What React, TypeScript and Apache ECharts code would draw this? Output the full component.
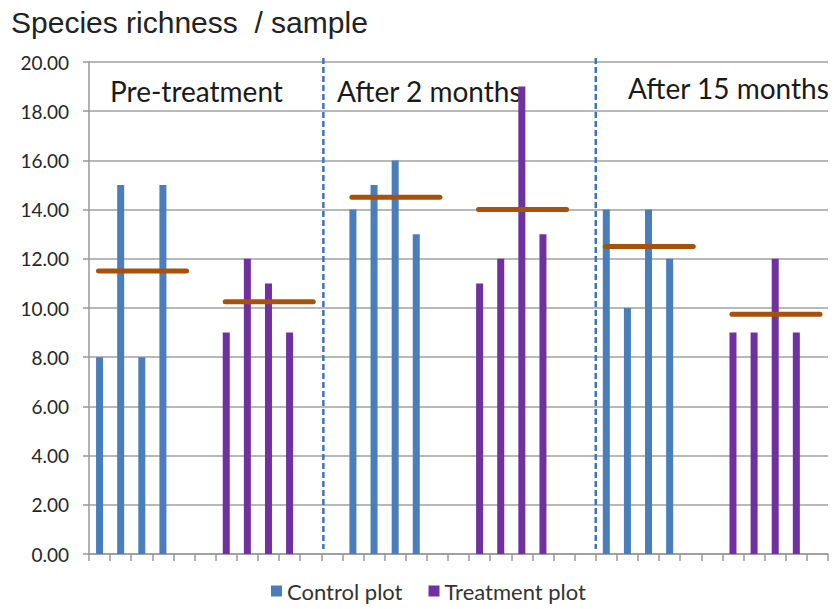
import React, { useEffect, useRef } from "react";
import * as echarts from "echarts";

// ---- data ----
const slotCount = 35;
const categories: string[] = new Array(slotCount).fill("");
const periods = ["Pre-treatment", "After 2 months", "After 15 months"];
const controlPre = [8, 15, 8, 15];
const controlAfter2 = [14, 15, 16, 13];
const controlAfter15 = [14, 10, 14, 12];
const treatmentPre = [9, 12, 11, 9];
const treatmentAfter2 = [11, 12, 19, 13];
const treatmentAfter15 = [9, 9, 12, 9];
const controlMeans = [11.5, 14.5, 12.5];
const treatmentMeans = [10.25, 14.0, 9.75];
const yTicks = [0, 2, 4, 6, 8, 10, 12, 14, 16, 18, 20];

// ---- layout (slot positions of groups) ----
const controlStarts = [0, 12, 24];
const treatmentStarts = [6, 18, 30];
const dividerSlots = [11.1, 24.0];

const BLUE = "#4A7EBB";
const PURPLE = "#7030A0";
const BROWN = "#A4520E";
const FONT = "Lato, 'Noto Sans', sans-serif";

function buildSeriesData(groups: number[][], starts: number[]) {
  const arr: (number | null)[] = new Array(slotCount).fill(null);
  groups.forEach((g, gi) => {
    g.forEach((v, i) => {
      arr[starts[gi] + i] = v;
    });
  });
  return arr;
}

export default function App() {
  const ref = useRef<HTMLDivElement>(null);

  useEffect(() => {
    if (!ref.current) return;
    const chart = echarts.init(ref.current, null, { renderer: "svg" });

    const controlData = buildSeriesData([controlPre, controlAfter2, controlAfter15], controlStarts);
    const treatmentData = buildSeriesData([treatmentPre, treatmentAfter2, treatmentAfter15], treatmentStarts);

    const meanSeries: any[] = [];
    const addMeans = (means: number[], starts: number[]) => {
      means.forEach((m, i) => {
        meanSeries.push({
          type: "line",
          xAxisIndex: 1,
          yAxisIndex: 0,
          data: [
            [starts[i] + 0.45, m],
            [starts[i] + 4.62, m],
          ],
          symbol: "none",
          lineStyle: { color: BROWN, width: 5, cap: "round" },
          z: 5,
          silent: true,
        });
      });
    };
    addMeans(controlMeans, controlStarts);
    addMeans(treatmentMeans, treatmentStarts);

    const dividerSeries = dividerSlots.map((x) => ({
      type: "line",
      xAxisIndex: 1,
      yAxisIndex: 0,
      data: [
        [x, 20.16],
        [x, 0.2],
      ],
      symbol: "none",
      clip: false,
      lineStyle: { color: "#3E75B8", width: 2.5, type: [6, 3] },
      z: 4,
      silent: true,
    }));

    const option: any = {
      animation: false,
      title: {
        text: "Species richness  / sample",
        left: 6,
        top: 2,
        textStyle: {
          fontFamily: "'Liberation Sans', Arial, sans-serif",
          fontSize: 30,
          fontWeight: "normal",
          color: "#222",
        },
      },
      legend: {
        data: ["Control plot", "Treatment plot"],
        bottom: 2,
        left: 266,
        icon: "rect",
        itemWidth: 11,
        itemHeight: 11,
        itemGap: 26,
        textStyle: { fontFamily: FONT, fontSize: 22, color: "#333" },
      },
      grid: { left: 89, right: 7, top: 62, bottom: 55 },
      xAxis: [
        {
          type: "category",
          data: categories,
          boundaryGap: true,
          axisLine: { lineStyle: { color: "#999", width: 1.5 } },
          axisTick: { show: true, interval: 0, length: 7, lineStyle: { color: "#999", width: 1.5 } },
          axisLabel: { show: false },
        },
        {
          type: "value",
          min: 0,
          max: slotCount,
          show: false,
        },
      ],
      yAxis: {
        type: "value",
        min: yTicks[0],
        max: yTicks[yTicks.length - 1],
        interval: 2,
        axisLine: { show: true, lineStyle: { color: "#999", width: 1.5 } },
        axisTick: { show: true, length: 6, lineStyle: { color: "#999", width: 1.5 } },
        splitLine: { lineStyle: { color: "#a0a0a0", width: 1.5 } },
        axisLabel: {
          formatter: (v: number) => v.toFixed(2),
          fontFamily: FONT,
          fontSize: 19,
          color: "#262626",
          margin: 20,
        },
      },
      graphic: [
        { type: "text", left: 110, top: 77, style: { text: periods[0], font: `28px ${FONT}`, fill: "#1a1a1a" } },
        { type: "text", left: 337, top: 77, style: { text: periods[1], font: `28px ${FONT}`, fill: "#1a1a1a" } },
        { type: "text", left: 628, top: 74, style: { text: periods[2], font: `28px ${FONT}`, fill: "#1a1a1a" } },
      ],
      series: [
        {
          name: "Control plot",
          type: "bar",
          data: controlData,
          barWidth: 7,
          barGap: "-100%",
          itemStyle: { color: BLUE },
          z: 3,
        },
        {
          name: "Treatment plot",
          type: "bar",
          data: treatmentData,
          barWidth: 7,
          barGap: "-100%",
          itemStyle: { color: PURPLE },
          z: 3,
        },
        ...dividerSeries,
        ...meanSeries,
      ],
    };

    chart.setOption(option);
    return () => chart.dispose();
  }, []);

  return (
    <div
      ref={ref}
      style={{ position: "fixed", left: 0, top: 0, width: 835, height: 609, background: "#fff" }}
    />
  );
}
